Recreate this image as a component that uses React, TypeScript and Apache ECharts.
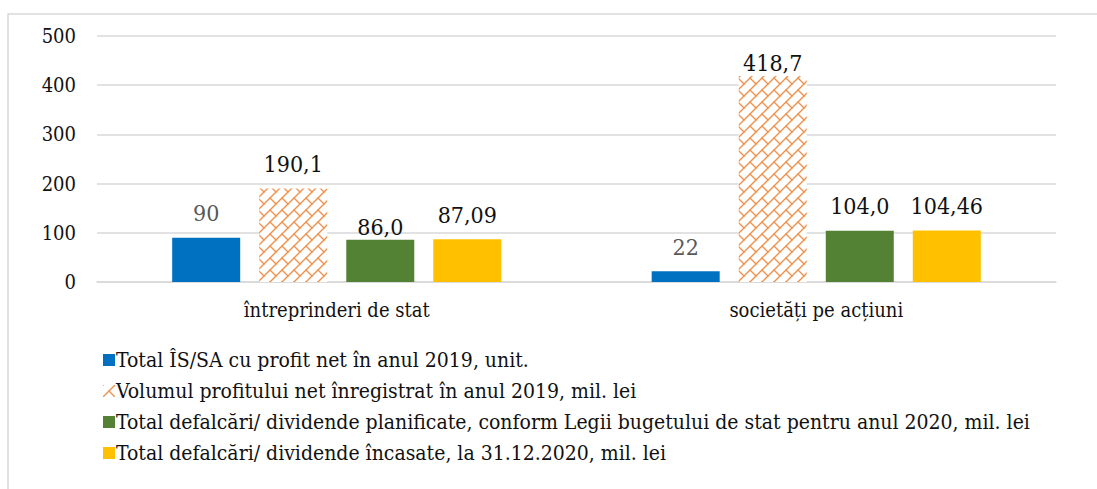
import React, { useEffect, useRef } from "react";
import * as echarts from "echarts";

const categories = ["întreprinderi de stat", "societăți pe acțiuni"];
const seriesNames = [
  "Total ÎS/SA cu profit net în anul 2019, unit.",
  "Volumul profitului net înregistrat în anul 2019, mil. lei",
  "Total defalcări/ dividende planificate, conform Legii bugetului de stat pentru anul 2020, mil. lei",
  "Total defalcări/ dividende încasate, la 31.12.2020, mil. lei",
];
const totalUnits = [90, 22];
const netProfit = [190.1, 418.7];
const plannedDividends = [86.0, 104.0];
const collectedDividends = [87.09, 104.46];
const labelDecimals = [0, 1, 1, 2];
const yTicks = [0, 100, 200, 300, 400, 500];

const FONT = "DejaVu Serif Condensed, DejaVu Serif";

function makePattern(): HTMLCanvasElement {
  const c = document.createElement("canvas");
  const s = 12;
  c.width = s;
  c.height = s;
  const ctx = c.getContext("2d")!;
  ctx.fillStyle = "#ffffff";
  ctx.fillRect(0, 0, s, s);
  ctx.strokeStyle = "#F0924F";
  ctx.lineWidth = 1.4;
  ctx.lineCap = "square";
  const lines = [0, s, 2 * s];
  for (const k of lines) {
    ctx.beginPath();
    ctx.moveTo(-2, k + 2);
    ctx.lineTo(k + 2, -2);
    ctx.stroke();
  }
  ctx.beginPath();
  ctx.moveTo(s / 2, s / 2);
  ctx.lineTo(s, s);
  ctx.stroke();
  ctx.beginPath();
  ctx.moveTo(0, 0);
  ctx.lineTo(-s / 2, -s / 2);
  ctx.stroke();
  return c;
}

export default function App() {
  const ref = useRef<HTMLDivElement>(null);
  useEffect(() => {
    if (!ref.current) return;
    const chart = echarts.init(ref.current, undefined, { renderer: "svg" });
    const pattern = makePattern();
    const colors: any[] = [
      "#0070C0",
      { image: pattern, repeat: "repeat", imageWidth: 12, imageHeight: 12 },
      "#548235",
      "#FFC000",
    ];
    const labelColors = ["#595959", "#111111", "#111111", "#111111"];
    const values = [totalUnits, netProfit, plannedDividends, collectedDividends];
    const closeLabels: Record<string, boolean> = { "1-1": true, "2-0": true };
    const fmt = (v: number, d: number) => v.toFixed(d).replace(".", ",");

    const series = values.map((arr, si) => ({
      name: seriesNames[si],
      type: "bar",
      barWidth: 68,
      barGap: "28%",
      itemStyle: { color: colors[si] },
      label: {
        show: true,
        position: "top",
        distance: 13,
        color: labelColors[si],
        fontFamily: FONT,
        fontSize: 23,
        formatter: (p: any) => fmt(p.value, labelDecimals[si]),
      },
      data: arr.map((v, ci) =>
        closeLabels[`${si}-${ci}`] ? { value: v, label: { distance: 1 } } : { value: v }
      ),
    }));

    chart.setOption({
      animation: false,
      backgroundColor: "#ffffff",
      textStyle: { fontFamily: FONT },
      graphic: [
        {
          type: "rect",
          shape: { x: 8, y: 14, width: 1100, height: 500 },
          style: { fill: "none", stroke: "#d9d9d9", lineWidth: 1.5 },
          silent: true,
          z: -10,
        },
      ],
      grid: { left: 97, right: 41, top: 36, bottom: 207, containLabel: false },
      xAxis: {
        type: "category",
        data: categories,
        axisLine: { lineStyle: { color: "#d9d9d9", width: 1.5 } },
        axisTick: { show: false },
        axisLabel: { color: "#111111", fontFamily: FONT, fontSize: 20, margin: 18 },
      },
      yAxis: {
        type: "value",
        min: yTicks[0],
        max: yTicks[yTicks.length - 1],
        interval: 100,
        axisLine: { show: false },
        axisTick: { show: false },
        splitLine: { lineStyle: { color: "#d9d9d9", width: 1.5 } },
        axisLabel: { color: "#111111", fontFamily: FONT, fontSize: 20, margin: 21 },
      },
      legend: {
        orient: "vertical",
        left: 98,
        top: 344,
        itemWidth: 12,
        itemHeight: 12,
        itemGap: 9,
        icon: "rect",
        textStyle: { color: "#111111", fontFamily: FONT, fontSize: 21, lineHeight: 22, padding: [0, 0, 0, -4] },
        data: seriesNames,
      },
      series,
    });
    return () => chart.dispose();
  }, []);
  return (
    <div
      ref={ref}
      style={{ position: "absolute", left: 0, top: 0, width: 1097, height: 489 }}
    />
  );
}
